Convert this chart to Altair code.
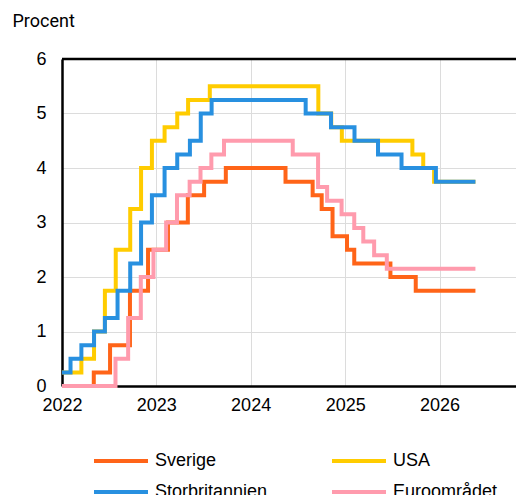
import altair as alt
import pandas as pd

names = ["Sverige", "USA", "Storbritannien", "Euroområdet"]
colors = ["#FF6418", "#FFCC00", "#2890E0", "#FF9BAD"]

se_dates = ["2022-01-01", "2022-05-04", "2022-07-06", "2022-09-21", "2022-11-30",
            "2023-02-15", "2023-05-03", "2023-07-05", "2023-09-27", "2024-05-15",
            "2024-08-28", "2024-10-02", "2024-11-13", "2025-01-08", "2025-02-05",
            "2025-06-25", "2025-10-01", "2026-05-20"]
se_vals = [0, 0.25, 0.75, 1.75, 2.5, 3.0, 3.5, 3.75, 4.0, 3.75, 3.5, 3.25, 2.75,
           2.5, 2.25, 2.0, 1.75, 1.75]

us_dates = ["2022-01-01", "2022-03-17", "2022-05-05", "2022-06-16", "2022-07-28",
            "2022-09-22", "2022-11-03", "2022-12-15", "2023-02-02", "2023-03-23",
            "2023-05-04", "2023-07-27", "2024-09-19", "2024-11-08", "2024-12-19",
            "2025-09-18", "2025-10-30", "2025-12-11", "2026-05-20"]
us_vals = [0.25, 0.5, 1.0, 1.75, 2.5, 3.25, 4.0, 4.5, 4.75, 5.0, 5.25, 5.5, 5.0,
           4.75, 4.5, 4.25, 4.0, 3.75, 3.75]

uk_dates = ["2022-01-01", "2022-02-03", "2022-03-17", "2022-05-05", "2022-06-16",
            "2022-08-04", "2022-09-22", "2022-11-03", "2022-12-15", "2023-02-02",
            "2023-03-23", "2023-05-11", "2023-06-22", "2023-08-03", "2024-08-01",
            "2024-11-07", "2025-02-06", "2025-05-08", "2025-08-07", "2025-12-18",
            "2026-05-20"]
uk_vals = [0.25, 0.5, 0.75, 1.0, 1.25, 1.75, 2.25, 3.0, 3.5, 4.0, 4.25, 4.5, 5.0,
           5.25, 5.0, 4.75, 4.5, 4.25, 4.0, 3.75, 3.75]

ea_dates = ["2022-01-01", "2022-07-27", "2022-09-14", "2022-11-02", "2022-12-21",
            "2023-02-08", "2023-03-22", "2023-05-10", "2023-06-21", "2023-08-02",
            "2023-09-20", "2024-06-12", "2024-09-18", "2024-10-23", "2024-12-18",
            "2025-02-05", "2025-03-12", "2025-04-23", "2025-06-11", "2026-05-20"]
ea_vals = [0, 0.5, 1.25, 2.0, 2.5, 3.0, 3.5, 3.75, 4.0, 4.25, 4.5, 4.25, 3.65,
           3.4, 3.15, 2.9, 2.65, 2.4, 2.15, 2.15]

y_ticks = [0, 1, 2, 3, 4, 5, 6]

rows = []
for name, ds, vs in zip(names, [se_dates, us_dates, uk_dates, ea_dates],
                        [se_vals, us_vals, uk_vals, ea_vals]):
    for d, v in zip(ds, vs):
        rows.append({"serie": name, "datum": d, "ranta": v})
df = pd.DataFrame(rows)

x_enc = alt.X(
    "datum:T",
    scale=alt.Scale(type="utc",
                    domain=[alt.DateTime(year=2022, month=1, date=1, utc=True),
                            alt.DateTime(year=2026, month=10, date=24, utc=True)]),
    axis=alt.Axis(title=None, format="%Y", tickCount={"interval": "year", "step": 1},
                  ticks=False, labelPadding=10, labelFontSize=18, labelFlush=False,
                  labelFont="Liberation Sans", labelColor="#000000",
                  domainColor="#000000", domainWidth=2.5,
                  grid=True, gridColor="#DCDCDC", gridWidth=1),
)
y_enc = alt.Y(
    "ranta:Q",
    scale=alt.Scale(domain=[0, 6], nice=False),
    axis=alt.Axis(values=y_ticks, format="d", ticks=False, labelPadding=16,
                  labelFontSize=18, labelFlush=False,
                  labelFont="Liberation Sans", labelColor="#000000",
                  domainColor="#000000", domainWidth=2.5,
                  grid=True, gridColor="#DCDCDC", gridWidth=1,
                  title="Procent", titleAngle=0, titleAlign="left",
                  titleBaseline="alphabetic", titleX=-50, titleY=-33,
                  titleFont="Roboto", titleFontSize=18, titleFontWeight="normal",
                  titleColor="#000000"),
)

lines = alt.Chart(df).mark_line(interpolate="step-after", strokeWidth=4).encode(
    x=x_enc,
    y=y_enc,
    color=alt.Color(
        "serie:N",
        sort=names,
        scale=alt.Scale(domain=names, range=colors),
        legend=alt.Legend(title=None, orient="none", legendX=30, legendY=391,
                          direction="horizontal",
                          columns=2, columnPadding=56, rowPadding=11,
                          symbolType="M-1,0L5,0", symbolSize=324,
                          symbolStrokeWidth=4, labelFontSize=18,
                          labelFont="Liberation Sans", labelColor="#000000",
                          labelOffset=41),
    ),
)

top = alt.Chart(pd.DataFrame({"y": [6]})).mark_rule(color="#000000", strokeWidth=2.5).encode(
    y=alt.Y("y:Q", scale=alt.Scale(domain=[0, 6], nice=False))
)

chart = alt.layer(lines, top).properties(
    width=454, height=327,
    autosize=alt.AutoSizeParams(type="none"),
    padding={"left": 54, "top": 51, "right": 0, "bottom": 109},
).configure_view(stroke=None)

chart.save("out.html", embed_options={"renderer": "svg", "actions": False})
